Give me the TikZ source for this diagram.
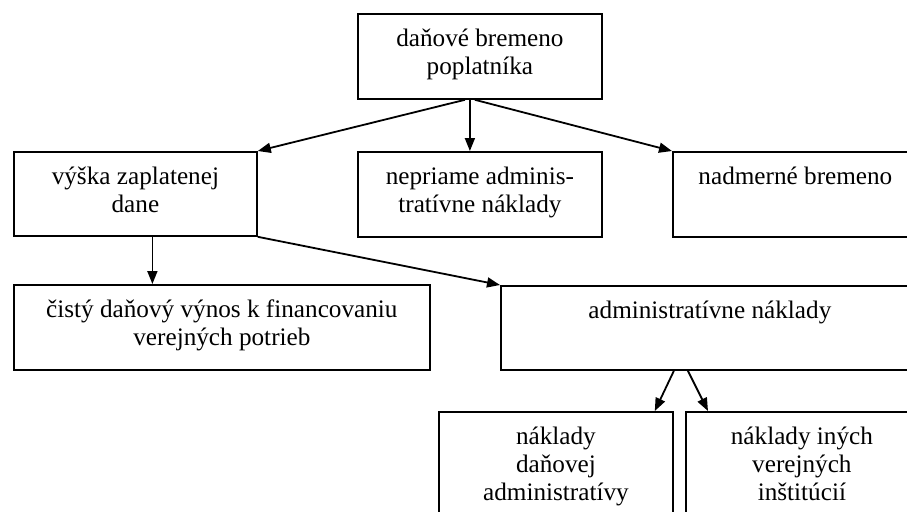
\documentclass[tikz,border=0pt]{standalone}
\usepackage{fontspec}
\setmainfont{Liberation Serif}
\usetikzlibrary{arrows.meta,calc}

% text v ramceku, zarovnany hore
\newcommand{\obsah}[3]{\parbox[c][#2][t]{#1}{\centering\rule{0pt}{16.5pt}#3}}

\tikzset{
  ramcek/.style={draw, line width=.9pt, inner sep=0pt, anchor=north west},
  sipka/.style={line width=.9pt, -{Triangle[length=6.5pt,width=5pt]}}
}

\begin{document}
\begin{tikzpicture}[x=0.5pt, y={(0pt,-0.5pt)}]
  \fontsize{12.6}{13.9}\selectfont
  \useasboundingbox (0,0) rectangle (907,511);
  \clip (0,0) rectangle (907,511);
  %Ramceky
  \node[ramcek] (poplatnik) at (357,13) {\obsah{122pt}{42.5pt}{daňové bremeno\\poplatníka}};
  \node[ramcek] (vyska) at (13,151) {\obsah{121.5pt}{42pt}{výška zaplatenej\\dane}};
  \node[ramcek] (nepriame) at (357,151) {\obsah{122pt}{42.5pt}{nepriame adminis-\\tratívne náklady}};
  \node[ramcek] (nadmerne) at (672,151) {\obsah{122.5pt}{42.5pt}{nadmerné bremeno}};
  \node[ramcek] (cisty) at (13,284) {\obsah{208pt}{42.5pt}{čistý daňový výnos k financovaniu\\verejných potrieb}};
  \node[ramcek] (admin) at (500,285) {\obsah{209pt}{42pt}{administratívne náklady}};
  \node[ramcek] (danova) at (438,411) {\obsah{117pt}{60pt}{náklady\\daňovej\\administratívy}};
  \node[ramcek] (ine) at (685,411) {\obsah{116pt}{60pt}{náklady iných\\verejných\\inštitúcií}};

  %Sipky
  \draw[sipka] ($(poplatnik.south)+(-15,0)$) -- (vyska.north east);
  \draw[sipka] ($(poplatnik.south)+(-10,0)$) -- ($(nepriame.north)+(-10,0)$);
  \draw[sipka] ($(poplatnik.south)+(-5,0)$) -- (nadmerne.north west);
  \coordinate (v1) at ($(vyska.south)+(17,0)$);
  \draw[sipka] (v1) -- (v1 |- cisty.north);
  \draw[sipka] (vyska.south east) -- (admin.north west);
  \draw[sipka] ($(admin.south)+(-36,0)$) -- ($(danova.north east)+(-19,0)$);
  \draw[sipka] ($(admin.south)+(-22,0)$) -- ($(ine.north west)+(23,0)$);
\end{tikzpicture}
\end{document}
